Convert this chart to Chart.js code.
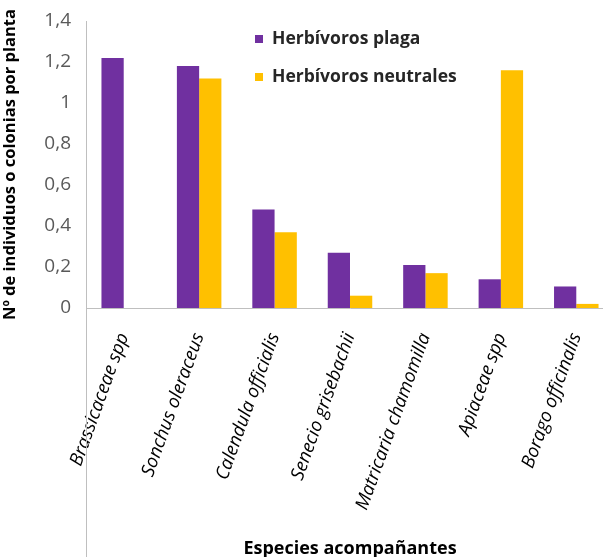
<!DOCTYPE html>
<html>
<head>
<meta charset="utf-8">
<script src="https://cdn.jsdelivr.net/npm/chart.js@4.4.0/dist/chart.umd.min.js"></script>
<style>
  html, body { margin: 0; padding: 0; background: #ffffff; overflow: hidden; }
  #wrap { width: 614px; height: 557px; }
</style>
</head>
<body>
<div id="wrap"><canvas id="chart" width="614" height="557"></canvas></div>
<script>
// Data
const categories = [
    'Brassicaceae spp',
    'Sonchus oleraceus',
    'Calendula officialis',
    'Senecio grisebachii',
    'Matricaria chamomilla',
    'Apiaceae spp',
    'Borago officinalis'
];
const plagaValues = [1.22, 1.18, 0.48, 0.27, 0.21, 0.14, 0.105];
const neutralesValues = [0, 1.12, 0.37, 0.06, 0.17, 1.16, 0.02];
const seriesLabels = ['Herbívoros plaga', 'Herbívoros neutrales'];

const FONT = "'Open Sans', sans-serif";
const axisColor = '#bfbfbf';

// Legend drawn inside the plot area, stacked vertically
const innerLegend = {
    id: 'innerLegend',
    afterDatasetsDraw(chart) {
        const ctx = chart.ctx;
        const area = chart.chartArea;
        const x = area.left + 169;
        let y = area.top + 18;
        ctx.save();
        ctx.font = 'bold 17.5px ' + FONT;
        ctx.textBaseline = 'middle';
        chart.data.datasets.forEach(ds => {
            ctx.fillStyle = ds.backgroundColor;
            ctx.fillRect(x, y - 4, 8, 8);
            ctx.fillStyle = '#262626';
            ctx.fillText(ds.label, x + 17, y);
            y += 38;
        });
        ctx.restore();
    }
};

// Vertical axis line continues down through the label area
const axisExtension = {
    id: 'axisExtension',
    afterDraw(chart) {
        const ctx = chart.ctx;
        const area = chart.chartArea;
        ctx.save();
        ctx.strokeStyle = axisColor;
        ctx.lineWidth = 1;
        ctx.beginPath();
        ctx.moveTo(area.left + 0.5, area.bottom);
        ctx.lineTo(area.left + 0.5, chart.height);
        ctx.stroke();
        ctx.restore();
    }
};

new Chart(document.getElementById('chart'), {
    type: 'bar',
    data: {
        labels: categories,
        datasets: [
            {
                label: seriesLabels[0],
                data: plagaValues,
                backgroundColor: '#7030A0',
                categoryPercentage: 0.59,
                barPercentage: 1.0
            },
            {
                label: seriesLabels[1],
                data: neutralesValues,
                backgroundColor: '#FFC000',
                categoryPercentage: 0.59,
                barPercentage: 1.0
            }
        ]
    },
    options: {
        responsive: false,
        animation: false,
        layout: { padding: { top: 21, right: 0, bottom: 0, left: 0 } },
        plugins: {
            legend: { display: false },
            tooltip: { enabled: false }
        },
        scales: {
            x: {
                grid: { display: false },
                border: { display: true, color: axisColor },
                ticks: {
                    color: '#000000',
                    font: { family: FONT, size: 18.5, style: 'italic' },
                    minRotation: 70,
                    maxRotation: 70,
                    padding: 14,
                    autoSkip: false
                },
                title: {
                    display: true,
                    text: 'Especies acompañantes',
                    color: '#000000',
                    font: { family: FONT, size: 18, weight: 'bold' },
                    padding: { top: 0, bottom: -3 }
                },
                afterFit(scale) { scale.height = 249; }
            },
            y: {
                min: 0,
                max: 1.4,
                grid: { display: false },
                border: { display: true, color: axisColor },
                ticks: {
                    stepSize: 0.2,
                    color: '#595959',
                    padding: 7,
                    font: { family: FONT, size: 19 },
                    callback: v => String(Math.round(v * 10) / 10).replace('.', ',')
                },
                title: {
                    display: true,
                    text: 'Nº de individuos o colonias por planta',
                    color: '#000000',
                    font: { family: FONT, size: 16.5, weight: 'bold' },
                    padding: { top: 0, bottom: 0 }
                },
                afterFit(scale) { scale.width = 86; }
            }
        }
    },
    plugins: [innerLegend, axisExtension]
});
</script>
</body>
</html>
